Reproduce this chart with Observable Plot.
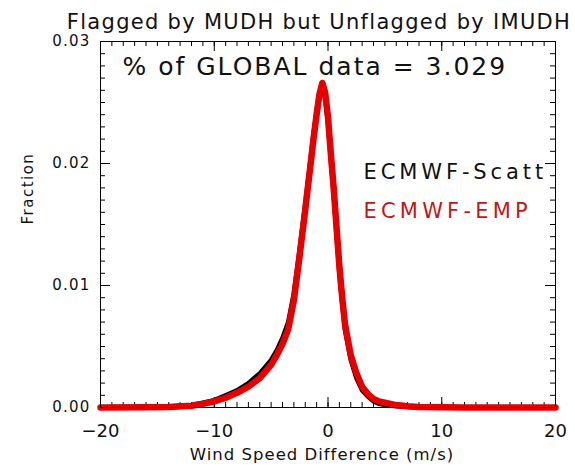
<!DOCTYPE html>
<html><head><meta charset="utf-8">
<script src="https://cdn.jsdelivr.net/npm/d3@7"></script>
<script src="https://cdn.jsdelivr.net/npm/@observablehq/plot@0.6"></script>
<style>body{margin:0;background:#fff}</style>
</head><body><div id="chart"></div>
<script>
const windDiff = [-20,-16,-14,-12,-11,-10,-9,-8,-7,-6,-5,-4.5,-4,-3.5,-3,-2.5,-2,-1.5,-1.25,-1,-0.75,-0.5,-0.25,0,0.25,0.5,0.75,1,1.25,1.5,2,2.5,3,3.5,4,4.5,5,6,7,8,10,12,16,20];
const scattFraction = [0,0.00003,0.00008,0.0002,0.0004,0.0006,0.0010,0.0014,0.0020,0.0028,0.0039,0.0047,0.0057,0.0070,0.0094,0.0129,0.0167,0.0206,0.0226,0.0243,0.0258,0.0264,0.0254,0.0233,0.0203,0.0174,0.0142,0.0110,0.0085,0.0063,0.0039,0.0024,0.0014,0.0009,0.0005,0.0003,0.0002,0.0001,0.00005,0.00002,0,0,0,0];
const empFraction = [0,0.00002,0.00005,0.00015,0.0003,0.0005,0.0008,0.0012,0.0017,0.0024,0.0035,0.0043,0.0052,0.0064,0.0088,0.0124,0.0162,0.0202,0.0222,0.0240,0.0257,0.0266,0.0258,0.0238,0.0208,0.0180,0.0148,0.0116,0.0090,0.0068,0.0043,0.0028,0.0017,0.0011,0.0007,0.0005,0.0004,0.0002,0.0001,0.00005,0.00002,0,0,0];
const xTicks = [-20,-10,0,10,20];
const yTicks = [0,0.01,0.02,0.03];
const seriesNames = ["ECMWF-Scatt","ECMWF-EMP"];
const seriesColors = ["#000000","#e60000"];
const labelColors = ["#111111","#c01818"];
const titleText = "Flagged by MUDH but Unflagged by IMUDH";
const globalText = "% of GLOBAL data = 3.029";
const xLabel = "Wind Speed Difference (m/s)";
const yLabel = "Fraction";

const scatt = windDiff.map((x,i)=>({x, y: scattFraction[i]}));
const emp = windDiff.map((x,i)=>({x, y: empFraction[i]}));
const xMinor = d3.range(-20, 21, 1);
const yMinor = d3.range(0, 31, 1).map(d => d/1000);
const font = "DejaVu Sans";

const W = 575, H = 467, mL = 100, mR = 20, mT = 41, mB = 60;
const pw = W - mL - mR, ph = H - mT - mB;
const major = 10, minor = 5;

const chart = Plot.plot({
  width: W, height: H,
  marginLeft: mL, marginRight: mR, marginTop: mT, marginBottom: mB,
  style: {fontFamily: font, background: "#fff", color: "#111"},
  x: {domain: [-20, 20]},
  y: {domain: [0, 0.03]},
  marks: [
    Plot.ruleX(xMinor, {x: d => d, insetTop: ph - minor, stroke: "#000"}),
    Plot.ruleX(xTicks, {x: d => d, insetTop: ph - major, stroke: "#000"}),
    Plot.ruleX(xMinor, {x: d => d, insetBottom: ph - minor, stroke: "#000"}),
    Plot.ruleX(xTicks, {x: d => d, insetBottom: ph - major, stroke: "#000"}),
    Plot.ruleY(yMinor, {y: d => d, insetRight: pw - minor, stroke: "#000"}),
    Plot.ruleY(yTicks, {y: d => d, insetRight: pw - major, stroke: "#000"}),
    Plot.ruleY(yMinor, {y: d => d, insetLeft: pw - minor, stroke: "#000"}),
    Plot.ruleY(yTicks, {y: d => d, insetLeft: pw - major, stroke: "#000"}),
    Plot.line(scatt, {x: "x", y: "y", stroke: seriesColors[0], strokeWidth: 4.5}),
    Plot.line(emp, {x: "x", y: "y", stroke: seriesColors[1], strokeWidth: 6.5}),
    Plot.frame({stroke: "#000", strokeWidth: 1}),
    Plot.axisX({ticks: xTicks, tickSize: 0, tickPadding: 17, fontSize: 18, label: null, tickFormat: d => d3.format("d")(d)}),
    Plot.axisY({ticks: yTicks, tickSize: 0, tickPadding: 10, fontSize: 15, label: null, tickFormat: d3.format(".2f")}),
    Plot.text([titleText], {frameAnchor: "top", lineAnchor: "middle", dx: -9, dy: -19, fontSize: 21, fill: "#111"}),
    Plot.text([globalText], {frameAnchor: "top-left", textAnchor: "start", lineAnchor: "middle", dx: 22, dy: 25, fontSize: 25, fill: "#111"}),
    Plot.text([seriesNames[0]], {frameAnchor: "top-left", textAnchor: "start", lineAnchor: "middle", dx: 263, dy: 131, fontSize: 21, fill: labelColors[0]}),
    Plot.text([seriesNames[1]], {frameAnchor: "top-left", textAnchor: "start", lineAnchor: "middle", dx: 263, dy: 170, fontSize: 21, fill: labelColors[1]}),
    Plot.text([xLabel], {frameAnchor: "bottom", lineAnchor: "middle", dx: -6, dy: 47, fontSize: 16.5, fill: "#111"}),
    Plot.text([yLabel], {frameAnchor: "left", lineAnchor: "middle", rotate: -90, dx: -72, fontSize: 15, fill: "#111"})
  ]
});
// letter spacing to mimic the wide IDL vector font
const spacing = new Map([
  [titleText, 1.3], [globalText, 2], [seriesNames[0], 3.9], [seriesNames[1], 4.2],
  [xLabel, 1], [yLabel, 1.5], ["0.00", 1.2], ["0.01", 1.2], ["0.02", 1.2], ["0.03", 1.2]
]);
d3.select(chart).selectAll("text").each(function() {
  const s = spacing.get(this.textContent);
  if (s != null) this.style.letterSpacing = s + "px";
});
document.getElementById("chart").appendChild(chart);
</script>
</body></html>
